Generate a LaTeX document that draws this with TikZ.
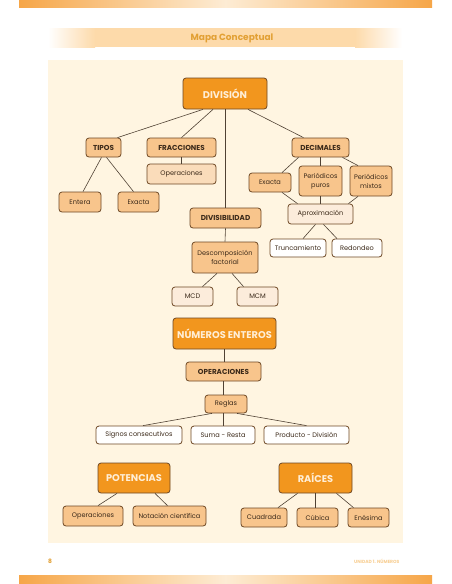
\documentclass[tikz,border=0pt]{standalone}
\usepackage{fontspec}
\setmainfont{Poppins}
\usetikzlibrary{positioning}
\definecolor{panelFill}{RGB}{255,245,225}
\definecolor{barOrange}{RGB}{246,166,72}
\definecolor{barLight}{RGB}{253,236,212}
\definecolor{bandFill}{RGB}{253,218,170}
\definecolor{titleText}{RGB}{226,160,52}
\definecolor{darkFill}{RGB}{242,150,30}
\definecolor{midFill}{RGB}{248,197,140}
\definecolor{softFill}{RGB}{250,220,186}
\definecolor{paleFill}{RGB}{252,236,219}
\definecolor{edgeCol}{RGB}{110,72,36}
\definecolor{lineCol}{RGB}{80,66,52}
\definecolor{inkCol}{RGB}{60,42,26}
\definecolor{capText}{RGB}{255,238,214}
\tikzset{
  link/.style={draw=lineCol, line width=0.6pt},
  box/.style={draw=edgeCol, line width=0.8pt, rounded corners=3pt, inner sep=1pt,
              align=center, text=inkCol, font=\fontsize{6.6}{9}\selectfont},
  mainbox/.style={box, fill=darkFill, text=capText, font=\fontsize{9.8}{11}\selectfont\bfseries},
  subbox/.style={box, fill=midFill, minimum height=19pt, font=\fontsize{7.2}{8.5}\selectfont\bfseries},
  itembox/.style={box, fill=midFill},
  softbox/.style={box, fill=softFill},
  palebox/.style={box, fill=paleFill},
  whitebox/.style={box, fill=white},
}

\begin{document}
\begin{tikzpicture}[x=1pt,y=-1pt]
\useasboundingbox (0,0) rectangle (452,584);
% page decoration
\fill[white] (0,0) rectangle (452,584);
\fill[left color=barOrange, right color=barOrange, middle color=barLight] (19,0) rectangle (432,7);
\fill[left color=barOrange, right color=barOrange, middle color=barLight] (19,575) rectangle (432,584);
\fill[left color=white, right color=bandFill] (48,28) rectangle (95,47);
\fill[bandFill] (95,28) rectangle (355,47);
\fill[left color=bandFill, right color=white] (355,28) rectangle (402,47);
\node[text=titleText, font=\fontsize{9}{11}\selectfont\bfseries] (title) at (232,38) {Mapa Conceptual};
\fill[panelFill] (48,60) rectangle (403,543);
\node[text=titleText, font=\fontsize{6}{7}\selectfont\bfseries] (pagenum) at (50,561) {8};
\node[text=bandFill!80!titleText, font=\fontsize{4.5}{5}\selectfont\bfseries, anchor=east] (unit) at (403,561) {UNIDAD 1. NÚMEROS};

% division
\node[mainbox, minimum width=84pt, minimum height=31pt] (div) at (225,93.5) {DIVISIÓN};
\node[subbox, minimum width=35pt] (tipos) at (103.5,147.5) {TIPOS};
\node[subbox, minimum width=69pt] (frac) at (181.5,147.5) {FRACCIONES};
\node[subbox, minimum width=57pt] (dec) at (320.5,147.5) {DECIMALES};
\node[softbox, minimum width=69pt, minimum height=20pt] (fracop) at (181.5,174) {Operaciones};
\node[itembox, minimum width=42pt, minimum height=20pt] (entera) at (80,202) {Entera};
\node[itembox, minimum width=41pt, minimum height=20pt] (exactat) at (138.5,202) {Exacta};
\node[itembox, minimum width=42pt, minimum height=19pt] (exactad) at (270,182.5) {Exacta};
\node[itembox, minimum width=43pt, minimum height=30pt] (puros) at (320.5,181) {Periódicos\\puros};
\node[itembox, minimum width=42pt, minimum height=30pt] (mixtos) at (371,181) {Periódicos\\mixtos};
\node[palebox, minimum width=65pt, minimum height=20pt] (aprox) at (320.5,214) {Aproximación};
\node[whitebox, minimum width=56pt, minimum height=18pt] (trunc) at (298,248) {Truncamiento};
\node[whitebox, minimum width=50pt, minimum height=18pt] (redon) at (357,248) {Redondeo};
\node[subbox, minimum width=71pt, minimum height=20pt] (divis) at (225.5,218) {DIVISIBILIDAD};
\node[itembox, minimum width=66pt, minimum height=31pt] (desc) at (225,257.5) {Descomposición\\factorial};
\node[palebox, minimum width=41pt, minimum height=19pt] (mcd) at (192.5,296.5) {MCD};
\node[palebox, minimum width=41pt, minimum height=19pt] (mcm) at (257.5,296.5) {MCM};

\draw[link] ([xshift=-22pt]div.south) -- ([xshift=14pt]tipos.north);
\draw[link] ([xshift=-12pt]div.south) -- (frac.north);
\draw[link] (div.south) -- (div.south |- divis.north);
\draw[link] ([xshift=23pt]div.south) -- ([xshift=-17pt]dec.north);
\draw[link] ([xshift=-2pt]tipos.south) -- ([xshift=3pt]entera.north);
\draw[link] ([xshift=3pt]tipos.south) -- ([xshift=-5pt]exactat.north);
\draw[link] (frac.south) -- (fracop.north);
\draw[link] ([xshift=-22pt]dec.south) -- ([xshift=12pt]exactad.north);
\draw[link] (dec.south) -- (puros.north);
\draw[link] ([xshift=22pt]dec.south) -- ([xshift=-13pt]mixtos.north);
\draw[link] ([xshift=12pt]exactad.south) -- ([xshift=-23pt]aprox.north);
\draw[link] (puros.south) -- (aprox.north);
\draw[link] ([xshift=-13pt]mixtos.south) -- ([xshift=28pt]aprox.north);
\draw[link] ([xshift=-5pt]aprox.south) -- ([xshift=5pt]trunc.north);
\draw[link] ([xshift=3pt]aprox.south) -- ([xshift=-20pt]redon.north);
\draw[link] (divis.south) -- (desc.north);
\draw[link] ([xshift=-8pt]desc.south) -- ([xshift=10pt]mcd.north);
\draw[link] ([xshift=7pt]desc.south) -- ([xshift=-14pt]mcm.north);

% numeros enteros
\node[mainbox, minimum width=103pt, minimum height=31pt] (enteros) at (224.5,333.5) {NÚMEROS ENTEROS};
\node[subbox, minimum width=75pt] (oper) at (223.5,371.5) {OPERACIONES};
\node[itembox, minimum width=42pt, minimum height=18pt] (reglas) at (226,404) {Reglas};
\node[whitebox, minimum width=86pt, minimum height=18pt] (signos) at (139,435) {Signos consecutivos};
\node[whitebox, minimum width=64pt, minimum height=18pt] (suma) at (223,435) {Suma - Resta};
\node[whitebox, minimum width=85pt, minimum height=18pt] (prod) at (306.5,435) {Producto - División};

\draw[link] (enteros.south) -- (enteros.south |- oper.north);
\draw[link] (oper.south) -- (oper.south |- reglas.north);
\draw[link] ([xshift=-14pt]reglas.south) -- ([xshift=4pt]signos.north);
\draw[link] (suma.north |- reglas.south) -- (suma.north);
\draw[link] ([xshift=11pt]reglas.south) -- (prod.north);

% potencias y raices
\node[mainbox, minimum width=72pt, minimum height=30pt] (pot) at (134,478) {POTENCIAS};
\node[mainbox, minimum width=73pt, minimum height=30pt] (raices) at (315.5,478) {RAÍCES};
\node[itembox, minimum width=60pt, minimum height=20pt] (potop) at (93,516) {Operaciones};
\node[itembox, minimum width=73pt, minimum height=20pt] (notac) at (169.5,516) {Notación científica};
\node[itembox, minimum width=46pt, minimum height=19pt] (cuad) at (264,517.5) {Cuadrada};
\node[itembox, minimum width=41pt, minimum height=19pt] (cub) at (317.5,517.5) {Cúbica};
\node[itembox, minimum width=41pt, minimum height=19pt] (enes) at (368.5,517.5) {Enésima};

\draw[link] ([xshift=-17pt]pot.south) -- ([xshift=5pt]potop.north);
\draw[link] ([xshift=21pt]pot.south) -- ([xshift=-2pt]notac.north);
\draw[link] ([xshift=-18pt]raices.south) -- ([xshift=14pt]cuad.north);
\draw[link] (raices.south) -- (raices.south |- cub.north);
\draw[link] ([xshift=21pt]raices.south) -- ([xshift=-15pt]enes.north);
\end{tikzpicture}
\end{document}
